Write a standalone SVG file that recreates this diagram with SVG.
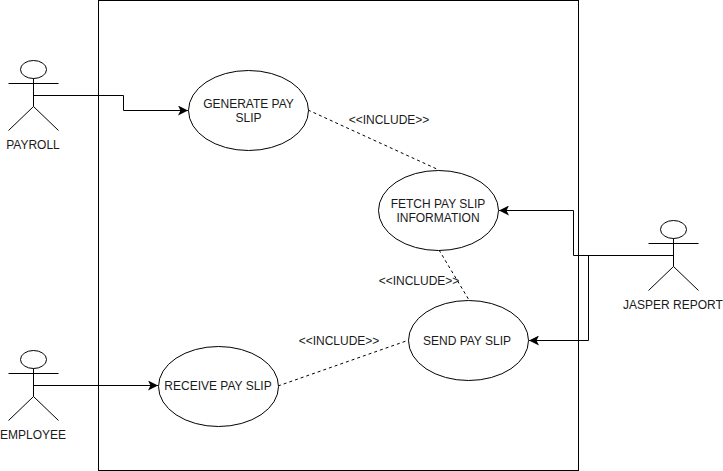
<svg xmlns="http://www.w3.org/2000/svg" width="723" height="471" viewBox="0 0 723 471">
<defs>
<marker id="arrow" markerUnits="userSpaceOnUse" markerWidth="12" markerHeight="10" refX="10" refY="5" orient="auto"><path d="M0 0L10 5L0 10L2.500 5Z" fill="#000"/></marker>
<g id="actor" fill="none" stroke="#000">
<ellipse cx="0" cy="9" rx="13" ry="9" fill="#fff"/>
<path d="M0 18V46M-25 23H25M0 46L-25 70M0 46L25 70"/>
</g>
</defs>
<style>
text{font-family:"Liberation Sans",Arial,sans-serif;font-size:12px;fill:#1a1a1a;text-anchor:middle}
.uc{fill:#fff;stroke:#000}
.c{fill:none;stroke:#000;marker-end:url(#arrow)}
.d{fill:none;stroke:#000;stroke-dasharray:3 3}
</style>
<rect id="boundary" x="98.500" y="0.500" width="480" height="470" fill="#fff" stroke="#000"/>
<g id="connectors">
<path class="c" d="M33.500 95.500H123.500V110.500H188"/>
<path class="c" d="M33.500 385.500H158"/>
<path class="c" d="M673.500 255.500H573.500V210.500H499"/>
<path class="c" d="M673.500 255.500H588.500V340.500H529"/>
<path class="d" d="M308 110L439 170"/>
<path class="d" d="M439 250L469 300"/>
<path class="d" d="M278 386L409 340"/>
</g>
<g id="payroll"><use href="#actor" x="33.500" y="60.500"/><text x="33" y="149">PAYROLL</text></g>
<g id="employee"><use href="#actor" x="33.500" y="350.500"/><text x="33" y="439">EMPLOYEE</text></g>
<g id="jasper"><use href="#actor" x="673.500" y="220.500"/><text x="673" y="309">JASPER REPORT</text></g>
<g id="generate"><ellipse class="uc" cx="248.500" cy="110.500" rx="60" ry="40"/><text x="248.500" y="108">GENERATE PAY</text><text x="248.500" y="122">SLIP</text></g>
<g id="fetch"><ellipse class="uc" cx="438.500" cy="210.500" rx="60" ry="40"/><text x="438" y="208">FETCH PAY SLIP</text><text x="438" y="222">INFORMATION</text></g>
<g id="send"><ellipse class="uc" cx="468.500" cy="340.500" rx="60" ry="40"/><text x="467" y="345">SEND PAY SLIP</text></g>
<g id="receive"><ellipse class="uc" cx="218.500" cy="386.500" rx="60" ry="40"/><text x="218" y="390">RECEIVE PAY SLIP</text></g>
<text x="389" y="124">&lt;&lt;INCLUDE&gt;&gt;</text>
<text x="419" y="285">&lt;&lt;INCLUDE&gt;&gt;</text>
<text x="339" y="345">&lt;&lt;INCLUDE&gt;&gt;</text>
</svg>
